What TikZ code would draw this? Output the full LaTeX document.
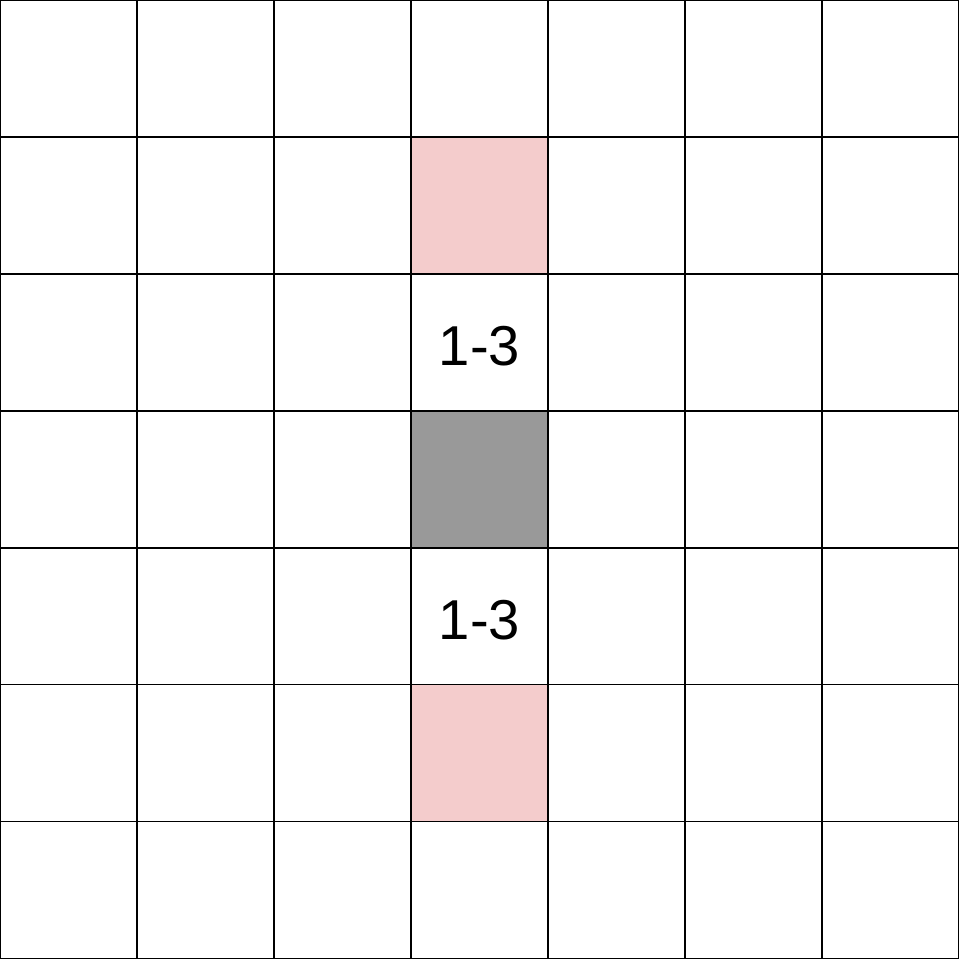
\documentclass[tikz,border=0pt]{standalone}
\usepackage{fontspec}
\setmainfont{Liberation Sans}
\definecolor{cellpink}{HTML}{F4CCCC}
\definecolor{cellgray}{HTML}{999999}
\begin{document}
\begin{tikzpicture}[x=1.37cm, y=-1.37cm, line width=0.3pt]
  \useasboundingbox (0,0) rectangle (7.015,7);
  \fill[cellpink] (3,1) rectangle (4,2);
  \fill[cellgray] (3,3) rectangle (4,4);
  \fill[cellpink] (3,5) rectangle (4,6);
  \foreach \k in {0,...,7}{
    \draw (\k,0) -- (\k,7);
    \draw (0,\k) -- (7,\k);
  }
  \node[font=\fontsize{16}{19}\selectfont] (upper) at (3.5,2.53) {1-3};
  \node[font=\fontsize{16}{19}\selectfont] (lower) at (3.5,4.53) {1-3};
\end{tikzpicture}
\end{document}
